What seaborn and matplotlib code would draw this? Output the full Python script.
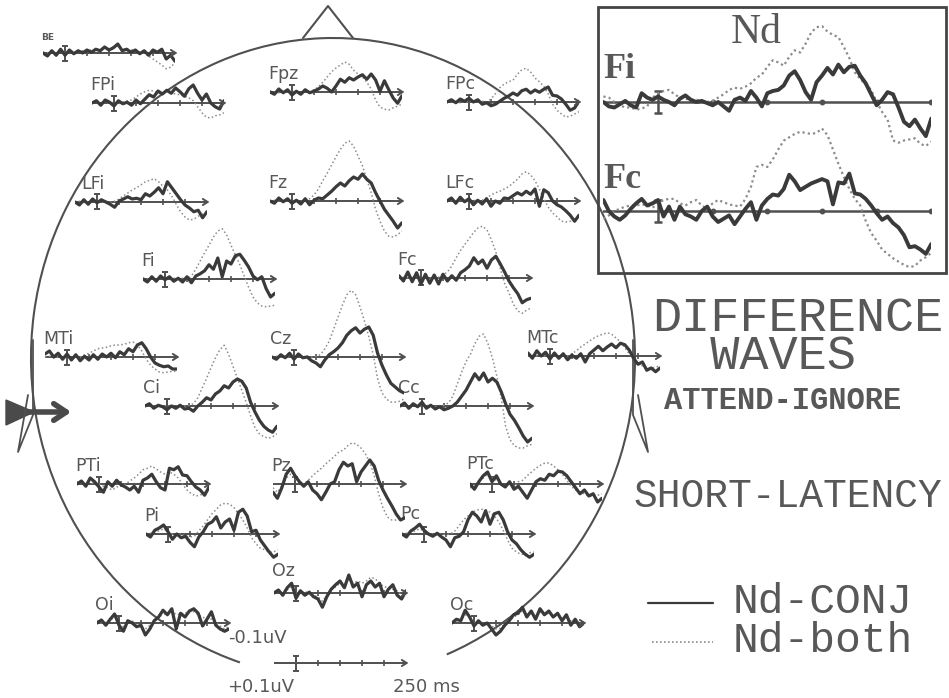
import numpy as np
import matplotlib
matplotlib.use("Agg")
import matplotlib.pyplot as plt
import seaborn as sns
from matplotlib.patches import Arc, Rectangle, Polygon

# Nd difference waves (attend - ignore), amplitude in uV, negativity plotted upward
t_small = np.arange(-50, 251, 10)   # ms, small head-map traces
t_inset = np.arange(-50, 251, 5)    # ms, enlarged Fi / Fc traces
tick_ms = [50, 100, 150, 200]

conj_BE = [0, -.04, .03, -.03, .05, -.03, .04, -.01, .03, 0, .04, .01, .05, .03, .08, .04, .07, .12, .03, .05, .01, .04, -.01, .03, -.03, .04, .01, .05, -.08, -.03, -.11]
both_BE = [.01, 0, .03, -.01, .04, 0, .03, .01, .01, .03, .03, .04, .04, .05, .07, .05, .08, .09, .05, .05, .04, .04, .01, 0, -.04, -.08, -.12, -.16, -.21, -.19, -.13]
conj_FPi = [0, .03, -.03, .04, .01, -.04, .03, -.01, .01, -.03, .04, -.01, .05, .11, .08, .16, .12, .17, .13, .2, .15, .09, .19, .24, .13, .04, .12, 0, -.05, -.08, .03]
both_FPi = [0, .01, -.01, .01, 0, .01, -.01, .01, .03, .04, .08, .12, .15, .17, .16, .13, .12, .15, .13, .12, .11, .09, .07, .03, -.05, -.13, -.19, -.2, -.17, -.16, -.13]
conj_Fpz = [0, -.03, .04, -.01, .03, -.04, .01, -.03, .03, -.01, .01, .04, .08, .05, 0, .08, .17, .13, .19, .16, .2, .23, .17, .24, .16, .01, .15, .03, -.08, -.15, -.05]
both_Fpz = [.01, 0, -.01, .01, 0, .01, 0, -.01, .01, 0, .03, .07, .13, .2, .27, .32, .36, .4, .37, .29, .24, .2, .13, .04, -.11, -.2, -.23, -.24, -.21, -.19, -.16]
conj_FPc = [0, .03, -.01, .04, .01, .05, 0, .03, -.03, -.01, -.05, -.03, .01, .05, .08, .12, .09, .15, .17, .12, .16, .13, .17, .2, .09, .08, .04, -.03, -.11, -.08, .01]
both_FPc = [0, .01, 0, -.01, .01, 0, .01, 0, .01, 0, .04, .11, .19, .24, .27, .29, .37, .43, .45, .4, .32, .27, .21, .11, -.03, -.11, -.16, -.2, -.19, -.16, -.13]
conj_LFi = [0, -.04, .03, -.03, .04, -.01, .03, 0, -.03, -.07, .01, .04, .07, .04, .05, .03, .11, .08, .13, .19, .11, .27, .19, .11, .03, -.04, -.08, -.13, -.11, -.21, -.13]
both_LFi = [0, .01, -.01, 0, .01, 0, -.01, .01, 0, .01, .04, .08, .12, .16, .19, .23, .27, .29, .31, .27, .21, .16, .08, -.03, -.13, -.2, -.24, -.23, -.19, -.16, -.13]
conj_Fz = [0, -.03, .04, -.01, .03, -.03, .01, -.04, .03, -.05, .01, .04, .03, .08, .13, .19, .24, .2, .27, .32, .29, .36, .29, .24, .11, 0, -.11, -.19, -.27, -.36, -.29]
both_Fz = [0, .01, 0, -.01, .01, 0, .01, 0, .01, .03, .08, .16, .27, .37, .48, .59, .69, .77, .8, .73, .6, .47, .29, .11, -.11, -.27, -.4, -.47, -.48, -.45, -.4]
conj_LFc = [0, .04, -.03, .05, -.01, .03, -.05, .01, -.04, .03, -.07, 0, -.03, .04, .03, .07, .11, .08, .13, .09, .16, -.07, .15, .11, 0, -.05, -.08, -.13, -.19, -.27, -.19]
both_LFc = [0, .01, 0, .01, -.01, 0, .01, 0, .01, .04, .08, .11, .13, .16, .19, .24, .29, .36, .39, .35, .27, .16, .03, -.08, -.16, -.21, -.27, -.28, -.27, -.24, -.21]
conj_Fi = [0, -.04, .03, -.03, .04, -.01, .03, -.03, .01, -.04, .03, -.05, .04, .07, .11, .19, .13, .28, .03, .24, .2, .31, .33, .25, .16, .04, -.01, .03, -.13, -.24, -.19]
both_Fi = [.01, 0, .01, -.01, .01, 0, -.01, .01, 0, .01, 0, .04, .13, .24, .35, .45, .56, .64, .67, .59, .45, .32, .19, .04, -.11, -.24, -.32, -.36, -.37, -.36, -.35]
conj_Fc = [.03, -.04, .08, -.05, .07, -.08, .05, -.07, .04, -.08, .05, -.04, .03, -.03, .07, .11, .16, .27, .19, .24, .13, .24, .29, .19, .08, -.04, -.13, -.21, -.33, -.29, -.27]
both_Fc = [0, .01, 0, .01, 0, -.01, .01, 0, .01, .01, .04, .08, .16, .27, .37, .45, .53, .61, .67, .69, .64, .51, .35, .13, -.07, -.2, -.35, -.44, -.47, -.43, -.4]
conj_MTi = [.04, .08, 0, .05, -.03, .04, -.04, .03, -.05, .01, -.04, .03, -.03, .04, 0, .05, -.01, .07, .03, .11, .07, .16, .19, .11, 0, -.08, -.11, -.13, -.12, -.16, -.16]
both_MTi = [0, .01, -.01, 0, .01, 0, -.01, .01, 0, .03, .05, .08, .11, .12, .13, .15, .16, .16, .17, .19, .2, .16, .08, -.03, -.11, -.16, -.2, -.21, -.2, -.19, -.19]
conj_Ci = [0, .03, -.03, .01, -.01, -.05, 0, -.03, .01, -.04, -.03, -.07, 0, .05, .11, .08, .16, .2, .27, .24, .32, .36, .33, .24, .05, -.08, -.19, -.27, -.32, -.35, -.27]
both_Ci = [0, .01, 0, -.01, .01, 0, .01, 0, -.01, 0, .01, .03, .11, .24, .37, .51, .64, .75, .81, .69, .53, .37, .21, .05, -.13, -.29, -.37, -.41, -.43, -.41, -.37]
conj_Cz = [0, -.03, .03, -.01, .05, -.03, .04, -.01, 0, -.05, -.08, -.13, -.04, .03, .07, .12, .19, .29, .35, .39, .32, .37, .4, .29, .05, -.11, -.24, -.35, -.4, -.45, -.48]
both_Cz = [0, .01, 0, -.01, .01, 0, .01, 0, .01, 0, .01, .03, .11, .21, .37, .53, .69, .83, .89, .83, .67, .48, .27, .03, -.29, -.48, -.56, -.6, -.6, -.59, -.56]
conj_Cc = [0, .04, -.03, .03, -.01, .05, -.03, .01, -.04, -.01, -.05, -.03, 0, .05, .13, .21, .32, .43, .35, .44, .32, .37, .32, .19, .03, -.11, -.19, -.29, -.4, -.48, -.43]
both_Cc = [0, .01, 0, .01, -.01, 0, .01, 0, -.01, 0, .01, .04, .13, .29, .45, .59, .69, .83, .93, .96, .83, .64, .4, .11, -.27, -.45, -.53, -.56, -.56, -.53, -.51]
conj_MTc = [.04, -.03, .07, 0, .05, -.04, .04, -.03, .03, -.05, .01, -.03, .03, -.08, .03, .08, .13, .07, .12, .16, .11, .17, .15, .08, -.03, -.11, -.08, -.19, -.16, -.21, -.16]
both_MTc = [0, .01, 0, .01, 0, -.01, .01, 0, .01, 0, .03, .07, .12, .16, .2, .24, .27, .29, .31, .29, .24, .19, .11, .03, -.05, -.11, -.13, -.16, -.16, -.15, -.13]
conj_PTi = [0, .04, -.03, .08, .03, -.04, -.11, .03, -.03, .05, -.01, -.04, -.08, -.03, -.11, .05, .08, .13, .03, -.05, -.08, .21, .19, .23, .12, .11, .03, -.04, -.08, -.15, -.04]
both_PTi = [.03, .01, 0, .03, -.01, 0, -.03, -.05, -.08, -.04, -.03, 0, .04, .08, .13, .19, .21, .24, .2, .16, .13, .16, .13, .08, 0, -.08, -.13, -.16, -.15, -.11, -.08]
conj_Pz = [-.11, -.19, -.05, .13, .21, .11, .03, -.03, .03, -.08, -.13, -.21, -.11, 0, .03, .19, .29, .24, .27, .03, .16, .24, .32, .24, .05, -.08, -.19, -.29, -.4, -.48, -.45]
both_Pz = [-.05, -.11, -.03, .08, .13, .07, .03, 0, .05, .11, .16, .21, .27, .32, .37, .43, .45, .51, .55, .53, .48, .4, .29, .11, -.13, -.32, -.44, -.48, -.48, -.47, -.45]
conj_Pi = [0, -.04, .05, .08, .12, .03, -.07, 0, -.05, -.03, -.11, -.17, -.04, .03, .13, .16, .23, .08, .16, .2, .05, .29, .33, .24, .03, .05, -.08, -.16, -.24, -.31, -.27]
both_Pi = [0, .01, .03, .04, .07, .03, 0, -.01, 0, -.03, -.04, -.03, .04, .11, .19, .27, .33, .39, .41, .4, .35, .27, .19, .08, -.05, -.13, -.19, -.21, -.24, -.24, -.21]
conj_PTc = [0, -.07, .03, .11, .16, .03, .11, 0, -.04, .03, -.07, -.03, -.11, -.19, -.08, .03, .07, .05, .13, .11, .17, .16, .11, .03, -.05, -.13, -.08, -.16, -.13, -.24, -.19]
both_PTc = [-.05, -.03, .03, .08, .13, .08, .05, 0, -.03, 0, -.03, .03, .05, .11, .16, .21, .25, .28, .28, .24, .19, .13, .05, -.03, -.08, -.11, -.13, -.16, -.16, -.15, -.13]
conj_Pc = [0, -.04, .04, .08, .13, .05, 0, -.03, .01, -.04, -.08, -.17, -.05, -.03, .03, .19, .29, .24, .16, .31, .13, .27, .29, .19, .03, -.08, -.13, -.21, -.27, -.31, -.27]
both_Pc = [0, .01, .03, .04, .07, .04, .01, 0, -.01, 0, -.01, 0, .04, .11, .19, .24, .29, .32, .33, .32, .29, .24, .16, .05, -.08, -.19, -.24, -.27, -.27, -.25, -.24]
conj_Oz = [0, .04, -.03, .07, .13, -.07, .03, -.03, .01, -.05, -.08, -.19, -.05, .05, .11, .16, .07, .24, .08, .13, -.05, .11, .16, .08, .13, -.05, .05, .11, -.03, -.08, .03]
both_Oz = [0, .03, -.01, .04, .08, 0, .03, 0, .03, -.03, -.05, -.11, -.03, .05, .08, .13, .11, .19, .13, .16, .13, .16, .21, .19, .13, .08, .08, .05, .03, -.03, 0]
conj_Oi = [0, .04, -.03, .05, .12, -.03, -.11, .03, 0, -.05, -.03, -.16, -.08, .03, .08, .17, .11, .19, -.08, .13, .08, .16, .19, .13, -.04, .05, .15, -.03, -.08, -.11, -.08]
both_Oi = [.03, 0, .01, .04, .08, 0, -.05, 0, .03, -.03, -.05, -.08, -.03, .04, .08, .11, .13, .16, .11, .12, .13, .16, .15, .11, .07, .08, .05, 0, -.04, -.08, -.05]
conj_Oc = [0, .05, .03, .17, .08, -.04, .03, -.03, 0, -.08, -.16, -.11, -.03, .03, .11, .13, .21, .08, .16, .05, .19, .11, .16, .08, .13, .03, .11, -.03, .05, -.05, 0]
both_Oc = [.01, .03, .04, .11, .07, 0, .01, -.01, 0, -.04, -.08, -.07, -.01, .03, .08, .11, .16, .11, .13, .09, .15, .11, .13, .09, .11, .05, .08, .03, .04, 0, -.03]

# enlarged Fi / Fc (5 ms steps)
big_conj_Fi = [0, -.04, -.05, -.02, .01, -.03, -.05, .08, .04, .02, .05, .02, 0, -.03, .03, .06, .02, 0, .01, -.01, -.03, 0, -.04, -.08, .02, .04, .01, .1, .04, -.04, .08, .1, .11, .15, .24, .28, .2, .09, .02, .18, .24, .31, .25, .34, .27, .32, .33, .24, .17, .07, -.03, .02, .09, .07, -.05, -.18, -.22, -.16, -.24, -.31, -.15]
big_both_Fi = [.05, .04, 0, -.03, -.05, -.05, -.07, -.06, -.04, .04, .08, .1, .11, .07, .04, .03, .02, .02, .01, 0, .01, .04, .07, .11, .13, .12, .14, .17, .22, .25, .32, .38, .36, .33, .41, .47, .45, .53, .63, .68, .69, .64, .61, .59, .5, .4, .27, .21, .16, .11, 0, -.09, -.16, -.35, -.37, -.35, -.34, -.33, -.38, -.4, -.36]
big_conj_Fc = [.1, 0, -.05, -.08, -.04, .02, .07, .11, .05, .07, .1, -.05, .04, -.08, .04, -.03, -.05, -.08, 0, .04, -.05, -.1, -.07, -.04, -.12, -.05, .02, .08, -.08, .05, .11, .15, .14, .2, .33, .27, .19, .22, .25, .27, .29, .27, .06, .26, .25, .34, .16, .15, .11, .05, -.02, -.08, -.05, -.11, -.15, -.22, -.33, -.32, -.35, -.39, -.3]
big_both_Fc = [-.07, -.04, 0, .02, .04, .05, .05, .06, .05, .03, .07, .1, .11, .11, .07, .05, .08, .1, .05, .02, .07, .1, .08, .06, .05, .04, .11, .22, .4, .42, .4, .47, .56, .64, .67, .7, .72, .71, .7, .71, .75, .69, .56, .43, .31, .2, .11, .05, -.09, -.2, -.27, -.35, -.39, -.43, -.46, -.49, -.51, -.5, -.45, -.42, -.38]

# where each trace sits on the page: (start of baseline x, baseline y) in pixels
sites = {
    "BE": (43, 53), "FPi": (92, 103), "Fpz": (270, 92), "FPc": (447, 102),
    "LFi": (75, 202), "Fz": (270, 201), "LFc": (447, 201),
    "Fi": (143, 279), "Fc": (399, 278),
    "MTi": (45, 357), "Cz": (272, 357), "MTc": (528, 356),
    "Ci": (145, 406), "Cc": (400, 406),
    "PTi": (77, 484), "Pz": (273, 484), "PTc": (470, 484),
    "Pi": (146, 534), "Pc": (402, 534),
    "Oz": (274, 593), "Oi": (97, 623), "Oc": (452, 623),
}
label_shift = {"LFi": (8, 0), "Oz": (0, -4), "PTc": (-2, -2), "Pc": (0, -2)}
conj = {k: globals()["conj_" + k] for k in sites}
both = {k: globals()["both_" + k] for k in sites}

W, H = 949, 698
INK = "#3a3a3a"
AXC = "#505050"
DOT = "#8c8c8c"
TXT = "#585858"

sns.set_style("white")
plt.rcParams["font.family"] = ["DejaVu Sans"]

fig = plt.figure(figsize=(W / 100, H / 100), dpi=100)
bg = fig.add_axes([0, 0, 1, 1])
bg.set_xlim(0, W)
bg.set_ylim(H, 0)
bg.axis("off")


def trace_axes(x0, y0, px_ms, px_uv, up, down):
    ax = fig.add_axes([x0 / W, 1 - (y0 + down) / H, 300 * px_ms / W, (up + down) / H])
    ax.axis("off")
    return ax, (-down / px_uv, up / px_uv)


def time_axis(ax, lw=1.4, arrow=True, cap=2):
    ax.plot([-50, 250], [0, 0], color=AXC, lw=lw)
    ax.errorbar([0], [0], yerr=[0.1], color=AXC, lw=lw, capsize=cap, capthick=lw)
    marks = tick_ms if arrow else tick_ms + [250]
    ax.plot(marks, [0] * len(marks), ls="none", marker="|" if arrow else "o",
            ms=4 if arrow else 3, mew=1.2, color=AXC)
    if arrow:
        ax.annotate("", xy=(262, 0), xytext=(240, 0), annotation_clip=False,
                    arrowprops=dict(arrowstyle="->,head_length=0.35,head_width=0.22",
                                    color=AXC, lw=lw))


# head outline, nose, ears and the arrow
bg.add_patch(Arc((333, 358), 604, 640, theta1=107, theta2=429, color=AXC, lw=1.5))
bg.plot([303, 328, 353], [38, 6, 38], color=AXC, lw=1.5)
bg.plot([633, 633, 648, 638], [340, 415, 452, 395], color=AXC, lw=1.3)
bg.plot([33, 33, 18, 28], [340, 415, 452, 395], color=AXC, lw=1.3)
bg.add_patch(Polygon([(6, 400), (6, 425), (34, 412)], closed=True, color="#4a4a4a"))
bg.annotate("", xy=(74, 412), xytext=(26, 412),
            arrowprops=dict(arrowstyle="->,head_length=0.9,head_width=0.6", color="#4a4a4a", lw=4))

# small traces over the head
for name, (x0, y0) in sites.items():
    ax, ylim = trace_axes(x0, y0, 0.44, 75, 80, 52)
    time_axis(ax)
    sns.lineplot(x=t_small, y=both[name], ax=ax, color=DOT, lw=1.1,
                 linestyle=(0, (1, 1.6)), errorbar=None)
    sns.lineplot(x=t_small, y=conj[name], ax=ax, color=INK, lw=2.3, errorbar=None)
    ax.set_xlim(-50, 250)
    ax.set_ylim(*ylim)
    ax.axis("off")
    dx, dy = label_shift.get(name, (0, 0))
    fs = 6.5 if name == "BE" else 12.5
    bg.text(x0 - 2 + dx, y0 - 13 + dy, name, fontsize=fs, color=TXT, ha="left", va="baseline",
            fontweight="bold" if name == "BE" else "normal")

# calibration bar
ax, ylim = trace_axes(274, 663, 0.44, 75, 30, 30)
time_axis(ax)
ax.set_xlim(-50, 250)
ax.set_ylim(*ylim)
bg.text(228, 643, "-0.1uV", fontsize=13, color=TXT, va="baseline")
bg.text(227, 692, "+0.1uV", fontsize=13, color=TXT, va="baseline")
bg.text(393, 692, "250 ms", fontsize=13, color=TXT, va="baseline")

# enlarged Fi / Fc box
bg.add_patch(Rectangle((598, 7), 348, 266, fill=False, ec="#454545", lw=2))
for lab, y0, c, b, ty in [("Fi", 102, big_conj_Fi, big_both_Fi, 78),
                          ("Fc", 211, big_conj_Fc, big_both_Fc, 188)]:
    ax, ylim = trace_axes(603.4, y0, 1.093, 110, 90, 60)
    time_axis(ax, lw=1.8, arrow=False, cap=3)
    sns.lineplot(x=t_inset, y=b, ax=ax, color=DOT, lw=1.6,
                 linestyle=(0, (1, 1.4)), errorbar=None)
    sns.lineplot(x=t_inset, y=c, ax=ax, color=INK, lw=2.8, errorbar=None)
    ax.set_xlim(-50, 250)
    ax.set_ylim(*ylim)
    ax.axis("off")
    bg.text(603, ty, lab, fontsize=26, fontweight="bold", color=TXT,
            family="Liberation Serif", va="baseline")
bg.text(731, 43, "Nd", fontsize=30, color=TXT, family="Liberation Serif", va="baseline")

# titles and legend
mono = dict(family="Liberation Mono", color=TXT)
bg.text(652, 296, "DIFFERENCE\n  WAVES", fontsize=35, va="top", linespacing=0.8, **mono)
bg.text(664, 409, "ATTEND-IGNORE", fontsize=22, fontweight="bold", va="baseline", **mono)
bg.text(634, 507, "SHORT-LATENCY", fontsize=28.5, va="baseline", **mono)
bg.text(733, 613, "Nd-CONJ", fontsize=31, va="baseline", **mono)
bg.text(733, 652, "Nd-both", fontsize=31, va="baseline", **mono)
bg.plot([648, 713], [603, 603], color=INK, lw=1.6)
bg.plot([652, 713], [642, 642], color=DOT, lw=1.2, linestyle=(0, (1, 1.4)))

fig.savefig("out.png", dpi=100, facecolor="white")
